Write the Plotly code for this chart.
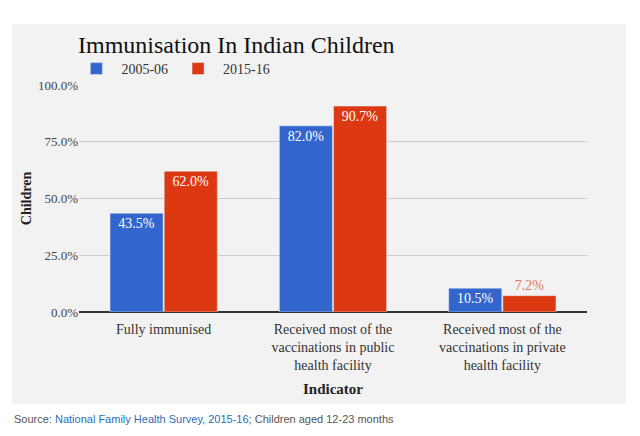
import plotly.graph_objects as go

categories = [
    "Fully immunised",
    "Received most of the<br>vaccinations in public<br>health facility",
    "Received most of the<br>vaccinations in private<br>health facility",
]
series_names = ["2005-06", "2015-16"]
values_2005 = [43.5, 82.0, 10.5]
values_2015 = [62.0, 90.7, 7.2]
y_ticks = [0, 25, 50, 75, 100]

SERIF = "Liberation Serif, Times New Roman, serif"
BLUE = "#3366cc"
RED = "#dc3912"

fig = go.Figure()

# grey panel behind the chart (source line sits outside it)
fig.add_shape(
    type="rect", xref="paper", yref="paper",
    x0=-0.132, x1=1.077, y0=-0.405, y1=1.269,
    fillcolor="#f2f2f2", line_width=0, layer="below",
)

fig.add_trace(go.Bar(
    x=categories, y=values_2005, name=series_names[0],
    marker_color=BLUE,
    text=[f"{v:.1f}%" for v in values_2005],
    textposition="inside", insidetextanchor="end",
    textfont=dict(color="white", size=14, family=SERIF),
    cliponaxis=False,
))
fig.add_trace(go.Bar(
    x=categories, y=values_2015, name=series_names[1],
    marker_color=RED,
    text=[f"{v:.1f}%" for v in values_2015],
    textposition=["inside", "inside", "outside"],
    insidetextanchor="end",
    textfont=dict(color=["white", "white", "#e0775c"], size=14, family=SERIF),
    cliponaxis=False,
))

# page body has an 8px margin, so margins are shifted to compensate
fig.update_layout(
    width=640, height=436,
    margin=dict(l=71, r=61, t=77, b=132, autoexpand=False),
    paper_bgcolor="white",
    plot_bgcolor="rgba(0,0,0,0)",
    font=dict(family=SERIF, size=13, color="#222"),
    barmode="group",
    bargap=0.36,
    bargroupgap=0.02,
    showlegend=True,
    legend=dict(
        orientation="h", x=-0.015, y=1.0, xanchor="left", yanchor="bottom",
        font=dict(size=14, color="#333"), bgcolor="rgba(0,0,0,0)",
        itemwidth=40, traceorder="normal", borderwidth=0,
    ),
    uniformtext=dict(minsize=8, mode="show"),
)

fig.update_yaxes(
    range=[0, 100], tickvals=y_ticks,
    ticktext=[f"{t:.1f}%" for t in y_ticks],
    showgrid=True, gridcolor="#cccccc", gridwidth=1,
    zeroline=True, zerolinecolor="#333333", zerolinewidth=1.5,
    tickfont=dict(size=13, color="#444"),
    title=dict(text="<b>Children</b>", font=dict(size=14, color="#222"), standoff=3),
    ticks="", showline=False, automargin=False,
)
fig.update_xaxes(
    tickfont=dict(size=14, color="#333"),
    ticks="outside", ticklen=4, tickcolor="rgba(0,0,0,0)",
    title=dict(text="<b>Indicator</b>", font=dict(size=15, color="#222"), standoff=11),
    showline=False, automargin=False,
)

fig.add_annotation(
    text="Immunisation In Indian Children",
    xref="paper", yref="paper", x=-0.005, y=1.108,
    xanchor="left", yanchor="bottom", showarrow=False,
    font=dict(family=SERIF, size=24, color="#111"),
)

fig.add_annotation(
    text="Source: <span style='color:#2a6ebb'>National Family Health Survey, 2015-16</span>; Children aged 12-23 months",
    xref="paper", yref="paper", x=-0.132, y=-0.47,
    xanchor="left", yanchor="middle", showarrow=False,
    font=dict(family="Liberation Sans, Arial, sans-serif", size=11, color="#555"),
)

fig.write_html("out.html")
